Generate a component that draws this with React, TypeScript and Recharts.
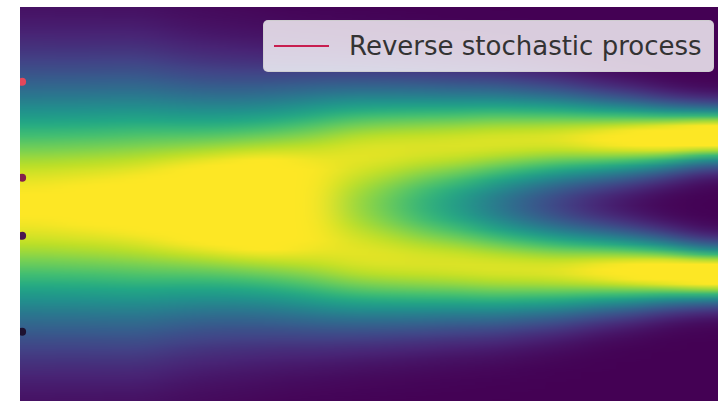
import { ComposedChart, Bar, Scatter, Line, XAxis, YAxis, Legend, Cell } from 'recharts';

// heat-map columns: centre time, distance of the two modes from the middle,
// spread of each mode and its colour weight (1 = top of the viridis scale)
const colTime = [0.025, 0.075, 0.125, 0.175, 0.225, 0.275, 0.325, 0.375, 0.425, 0.475, 0.525,
  0.575, 0.625, 0.675, 0.725, 0.775, 0.825, 0.875, 0.925, 0.975, 1.025, 1.075];
const modeOffset = [0, 0, 0, 0.07, 0.17, 0.31, 0.46, 0.6, 0.71, 0.78, 0.81,
  0.84, 0.86, 0.9, 0.92, 0.94, 0.94, 0.95, 0.96, 0.99, 0.99, 1.0];
const modeSpread = [1.14, 1.13, 1.13, 1.12, 1.04, 0.96, 0.87, 0.77, 0.7, 0.64, 0.61,
  0.58, 0.55, 0.52, 0.48, 0.44, 0.39, 0.35, 0.3, 0.26, 0.25, 0.24];
const modeWeight = [0.505, 0.513, 0.52, 0.534, 0.572, 0.625, 0.703, 0.79, 0.845, 0.905, 0.925,
  0.93, 0.94, 0.945, 0.945, 0.955, 1.0, 1.05, 1.13, 1.2, 1.23, 1.25];

// starting points of the reverse trajectories
const startTime = [0, 0, 0, 0];
const startPos = [1.76, 0.39, -0.44, -1.81];
const startColor = ['#e4475a', '#84204d', '#4b1650', '#1e1230'];

const legendLabel = 'Reverse stochastic process';
const legendColor = '#c81e50';

const Y_MIN = -2.83;
const Y_MAX = 2.83;

const VIRIDIS = ['#440154', '#482475', '#414487', '#355f8d', '#2a788e', '#21918c',
  '#22a884', '#44bf70', '#7ad151', '#bddf26', '#fde725'];

const hexRgb = (h: string) => [1, 3, 5].map((i) => parseInt(h.slice(i, i + 2), 16));

function viridis(v: number) {
  const c = Math.max(0, Math.min(1, v)) * (VIRIDIS.length - 1);
  const i = Math.min(Math.floor(c), VIRIDIS.length - 2);
  const f = c - i;
  const a = hexRgb(VIRIDIS[i]);
  const b = hexRgb(VIRIDIS[i + 1]);
  const rgb = a.map((x, k) => Math.round(x + (b[k] - x) * f));
  return `rgb(${rgb.join(',')})`;
}

const STOPS = 80;
function columnStops(d: number, s: number, a: number) {
  const out: { offset: number; color: string }[] = [];
  for (let k = 0; k <= STOPS; k++) {
    const u = k / STOPS;
    const y = Y_MAX - u * (Y_MAX - Y_MIN);
    const v = a * (Math.exp(-((y - d) ** 2) / (2 * s * s)) + Math.exp(-((y + d) ** 2) / (2 * s * s)));
    out.push({ offset: u, color: viridis(v) });
  }
  return out;
}

const heatData = colTime.map((t) => ({ t, span: [Y_MIN, Y_MAX] }));
const startData = startTime.map((t, i) => ({ t, y: startPos[i] }));

const HeatColumn = (props: any) => {
  const { x, y, width, height, index } = props;
  const first = index === 0;
  const last = index === colTime.length - 1;
  return (
    <rect
      x={first ? x - 60 : x}
      y={y}
      width={width + (first ? 60 : 0) + (last ? 60 : 0) + 0.5}
      height={height}
      fill={`url(#heatCol${index})`}
    />
  );
};

const StartDot = (props: any) => <circle cx={props.cx} cy={props.cy} r={4} fill={props.fill} />;

const LegendBox = ({ payload }: any) => {
  const item = payload?.[0];
  if (!item) return null;
  return (
    <div
      style={{
        boxSizing: 'border-box',
        width: 451,
        height: 52,
        display: 'flex',
        alignItems: 'center',
        background: 'rgba(255,255,255,0.8)',
        border: '1px solid rgba(204,204,204,0.8)',
        borderRadius: 5,
        paddingLeft: 10,
      }}
    >
      <span style={{ display: 'inline-block', width: 55, height: 2.5, background: item.color, marginRight: 20 }} />
      <span style={{ fontFamily: 'DejaVu Sans', fontSize: 26, color: '#333', lineHeight: 1 }}>{item.value}</span>
    </div>
  );
};

export default function App() {
  return (
    <div style={{ position: 'absolute', left: 0, top: 0, width: 718, height: 401, overflow: 'hidden', background: '#fff' }}>
      <style>{`.recharts-bar { filter: url(#heatBlur); clip-path: url(#heatClip); }`}</style>
      <ComposedChart
        width={790}
        height={403}
        data={heatData}
        margin={{ top: 7, right: 0, bottom: 0, left: 20 }}
        barCategoryGap={0}
      >
        <defs>
          <filter id="heatBlur" x="-8%" y="0" width="116%" height="100%" colorInterpolationFilters="sRGB">
            <feGaussianBlur stdDeviation="18 0" />
          </filter>
          <clipPath id="heatClip">
            <rect x={20} y={7} width={770} height={396} />
          </clipPath>
          {colTime.map((_, i) => (
            <linearGradient key={i} id={`heatCol${i}`} x1="0" y1="0" x2="0" y2="1">
              {columnStops(modeOffset[i], modeSpread[i], modeWeight[i]).map((s, k) => (
                <stop key={k} offset={s.offset} stopColor={s.color} />
              ))}
            </linearGradient>
          ))}
        </defs>
        <XAxis xAxisId="col" dataKey="t" type="category" hide />
        <XAxis xAxisId="time" dataKey="t" type="number" domain={[-0.003, 1.097]} allowDataOverflow hide />
        <YAxis type="number" domain={[Y_MIN, Y_MAX]} allowDataOverflow hide />
        <Bar xAxisId="col" dataKey="span" shape={HeatColumn} legendType="none" isAnimationActive={false} />
        <Line
          xAxisId="time"
          data={[]}
          dataKey="y"
          name={legendLabel}
          stroke={legendColor}
          strokeWidth={2.5}
          dot={false}
          isAnimationActive={false}
        />
        <Scatter xAxisId="time" data={startData} dataKey="y" shape={StartDot} legendType="none" isAnimationActive={false}>
          {startData.map((_, i) => (
            <Cell key={i} fill={startColor[i]} />
          ))}
        </Scatter>
        <Legend
          layout="horizontal"
          verticalAlign="middle"
          align="center"
          wrapperStyle={{ left: 263, top: 20, width: 451, height: 52 }}
          content={(p: any) => <LegendBox payload={p.payload} />}
        />
      </ComposedChart>
    </div>
  );
}
